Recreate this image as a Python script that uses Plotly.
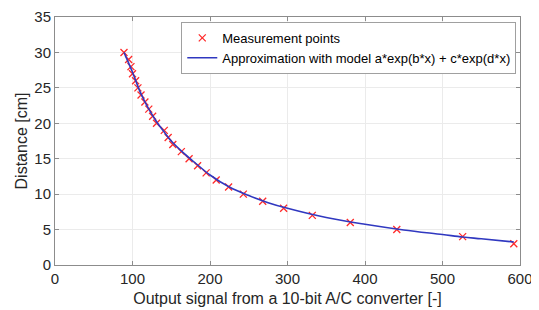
import plotly.graph_objects as go

# Measurement points
meas_x = [89, 95, 98, 100, 104, 107, 111, 116, 121, 126, 131, 141, 146, 152,
          163, 173, 184, 195, 208, 224, 243, 268, 295, 332, 381, 441, 526, 592]
meas_y = [30, 29, 28, 27, 26, 25, 24, 23, 22, 21, 20, 19, 18, 17,
          16, 15, 14, 13, 12, 11, 10, 9, 8, 7, 6, 5, 4, 3]

# Approximation curve
fit_x = [89, 100, 110, 120, 130, 140, 150, 165, 180, 200, 225, 250, 275,
         300, 350, 400, 450, 500, 526, 550, 592]
fit_y = [30.0, 27.2, 24.4, 22.2, 20.4, 18.9, 17.5, 15.9, 14.5, 12.7, 11.0,
         9.8, 8.8, 8.0, 6.7, 5.75, 4.95, 4.3, 3.95, 3.7, 3.25]

x_ticks = [0, 100, 200, 300, 400, 500, 600]
y_ticks = [0, 5, 10, 15, 20, 25, 30, 35]

font_color = "#262626"
FONT = "Liberation Sans, Arial"

fig = go.Figure()
fig.add_trace(go.Scatter(
    x=meas_x, y=meas_y, mode="markers", name="Measurement points",
    marker=dict(symbol="x-thin", size=7, line=dict(color="#ff2a2a", width=1.3)),
))
fig.add_trace(go.Scatter(
    x=fit_x, y=fit_y, mode="lines", line_shape="spline",
    name="Approximation with model a*exp(b*x) + c*exp(d*x)",
    line=dict(color="#3038c0", width=1.6),
))

axis_common = dict(
    showgrid=True, gridcolor="#ebebeb", gridwidth=1,
    showline=True, linecolor="#8c8c8c", linewidth=1, mirror="ticks",
    ticks="inside", ticklen=4, tickcolor="#8c8c8c",
    zeroline=False, automargin=False,
    tickfont=dict(family=FONT, size=15, color=font_color),
)

# The page shows the figure offset by the 8px body margin
fig.update_layout(
    width=531, height=302,
    margin=dict(l=47, r=19, t=9, b=45),
    paper_bgcolor="white", plot_bgcolor="white",
    font=dict(family=FONT, color=font_color),
    xaxis=dict(range=[0, 600], tickvals=x_ticks,
               title=dict(text="Output signal from a 10-bit A/C converter [-]",
                          font=dict(size=16, color=font_color), standoff=6),
               **axis_common),
    yaxis=dict(range=[0, 35], tickvals=y_ticks,
               title=dict(text="Distance [cm]",
                          font=dict(size=16, color=font_color), standoff=2),
               **axis_common),
    legend=dict(x=0.992, y=0.98, xanchor="right", yanchor="top",
                bgcolor="white", bordercolor="#a0a0a0", borderwidth=1,
                font=dict(family=FONT, size=13, color="#000000"),
                itemwidth=30, tracegroupgap=0),
    showlegend=True,
)

fig.write_html("out.html")
